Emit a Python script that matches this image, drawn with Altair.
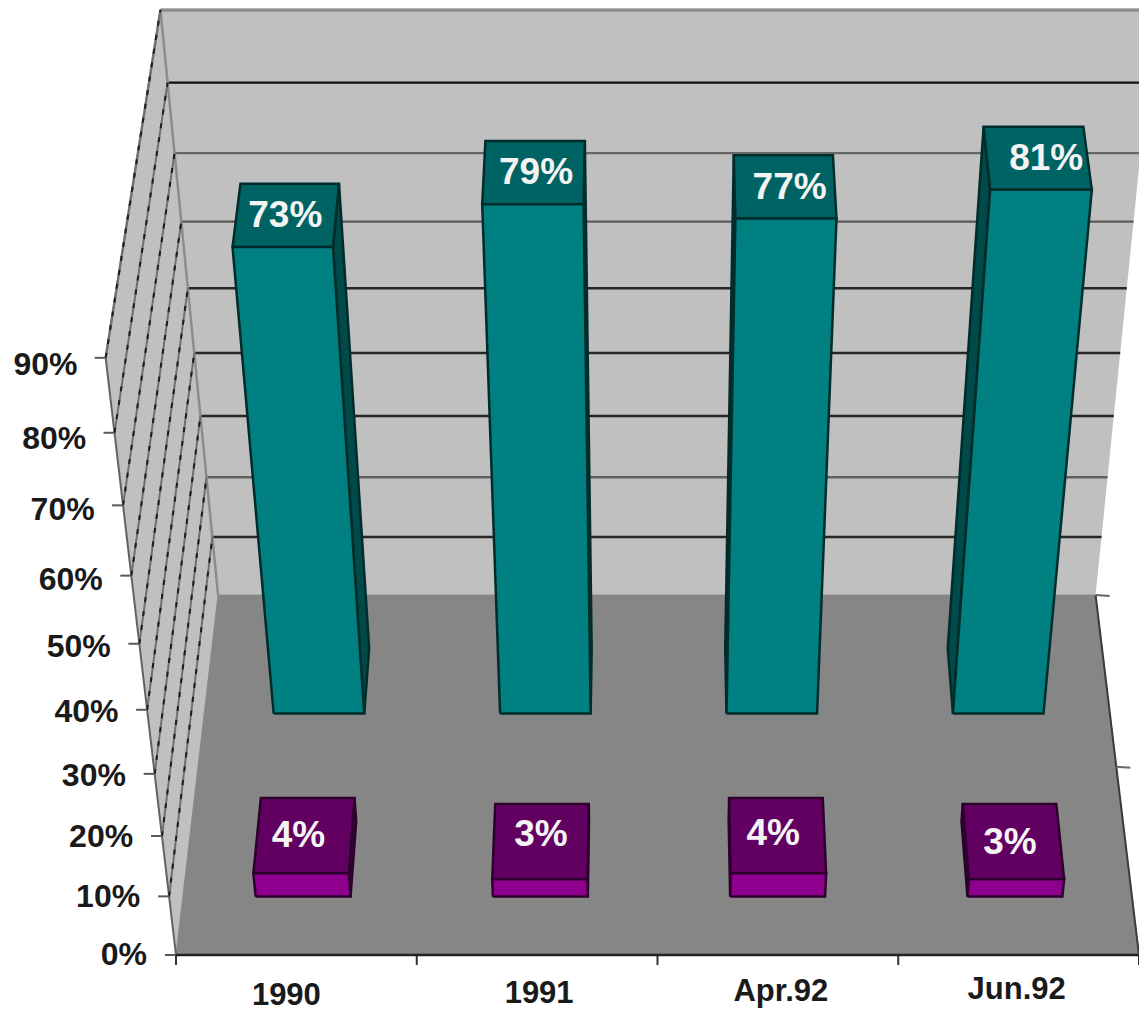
import altair as alt
import pandas as pd

# Survey shares per period, two series
categories = ["1990", "1991", "Apr.92", "Jun.92"]
teal_values = [73, 79, 77, 81]
purple_values = [4, 3, 4, 3]
y_ticks = [0, 10, 20, 30, 40, 50, 60, 70, 80, 90]

WIDTH, HEIGHT = 1139, 1012
FONT = "Liberation Sans"

# Perspective camera: origin is the front-left floor corner, the vertical and
# depth directions run to their own vanishing points, the category direction stays level.
ORIGIN = (176.0, 955.0)
ACROSS = 963.0
UP_VP, UP_K = (650.0, 4980.0), -0.1292
DEPTH_VP, DEPTH_K = (650.0, -3100.0), 0.0974


def project(across, depth, pct):
    up = pct / 90.0
    w = 1 + UP_K * up + DEPTH_K * depth
    px = ORIGIN[0] + ACROSS * across + UP_VP[0] * UP_K * up + DEPTH_VP[0] * DEPTH_K * depth
    py = ORIGIN[1] + UP_VP[1] * UP_K * up + DEPTH_VP[1] * DEPTH_K * depth
    return px / w, py / w


lines, labels = [], []


def add_shape(rows, corners, fill, stroke, stroke_width):
    pid = f"s{len({r['poly'] for r in rows}):04d}"
    closed = list(corners) + [corners[0]]
    for i, (px, py) in enumerate(closed):
        rows.append(dict(poly=pid, v=i, x=px, y=py, fill=fill, stroke=stroke, sw=stroke_width))


def add_line(a, b, stroke, stroke_width):
    pid = f"l{len(lines):04d}"
    for i, (px, py) in enumerate((a, b)):
        lines.append(dict(poly=pid, v=i, x=px, y=py, stroke=stroke, sw=stroke_width))


# Walls and floor
room = []
WALL, FLOOR, WALL_EDGE = "#c0c0c0", "#868686", "#8c8c8c"
add_shape(room, [project(0, 1, 0), project(0, 1, 90), project(1, 1, 90), project(1, 1, 0)], WALL, WALL_EDGE, 0.01)
add_shape(room, [project(0, 0, 0), project(0, 0, 90), project(0, 1, 90), project(0, 1, 0)], WALL, WALL_EDGE, 0.01)
add_shape(room, [project(0, 0, 0), project(1, 0, 0), project(1, 1, 0), project(0, 1, 0)], FLOOR, FLOOR, 1)

# Gridlines across the back wall, with the weight each one prints at
back_grid_colors = ["#7a7a7a", "#262626", "#606060", "#262626", "#262626", "#262626", "#5a5a5a", "#666666", "#111111", "#7d7d7d"]
for pct, colour in zip(y_ticks, back_grid_colors):
    if pct:
        add_line(project(0, 1, pct), project(1, 1, pct), colour, 2.4)
# Gridlines along the side wall
side_solid = []
side_dash = []
for pct in y_ticks[1:]:
    for target in (side_solid, side_dash):
        pid = f"g{pct:03d}"
        for i, p in enumerate((project(0, 0, pct), project(0, 1, pct))):
            target.append(dict(poly=pid, v=i, x=p[0], y=p[1]))

# Wall edges
add_line(project(0, 0, 0), project(0, 0, 90), "#626262", 2)
add_line(project(0, 0, 90), project(0, 1, 90), "#8c8c8c", 2.5)
add_line(project(0, 1, 0), project(0, 1, 90), "#8c8c8c", 2.5)
add_line(project(0, 1, 90), project(1, 1, 90), "#8c8c8c", 3)

# Bars, rear row first so the front row paints over it
BAR_HALF = 0.05
bars = []


def add_bar(value, across, z0, z1, front, top, side, edge):
    left, right = across - BAR_HALF, across + BAR_HALF
    near = left if across > 0.5 else right
    add_shape(bars, [project(near, z0, 0), project(near, z0, value), project(near, z1, value), project(near, z1, 0)], side, edge, 2.5)
    add_shape(bars, [project(left, z0, value), project(right, z0, value), project(right, z1, value), project(left, z1, value)], top, edge, 2.5)
    add_shape(bars, [project(left, z0, 0), project(right, z0, 0), project(right, z0, value), project(left, z0, value)], front, edge, 2.5)


ROWS = [
    (teal_values, 0.65, 0.84, "#008080", "#006363", "#004a4a", "#002c2c", [-1, 2, 5, 9], [1, 1, 1, 1]),
    (purple_values, 0.15, 0.35, "#8f008f", "#620062", "#3f003f", "#2c002c", [-6, 0, -4, -3], [1, -6, -1, 2]),
]
for values, z0, z1, front, top, side, edge, nudge_x, nudge_y in ROWS:
    for i, value in enumerate(values):
        across = 0.1267 + 0.25 * i
        add_bar(value, across, z0, z1, front, top, side, edge)
        cx, cy = project(across, (z0 + z1) / 2, value)
        labels.append(dict(x=cx + nudge_x[i], y=cy + nudge_y[i], text=f"{value}%"))

# Front edge, tick marks, right floor edge and depth ticks
frame = []
for pct in y_ticks:
    px, py = project(0, 0, pct)
    frame.append(((px - 11, py), (px, py), "#5a5a5a", 2))
for i in range(len(categories) + 1):
    px, py = project(i / len(categories), 0, 0)
    frame.append(((px, py), (px, py + 10), "#333333", 2))
frame.append((project(0, 0, 0), project(1, 0, 0), "#222222", 2.5))
frame.append((project(1, 0, 0), project(1, 1, 0), "#3a3a3a", 2))
for depth in (0.5, 1.0):
    px, py = project(1, depth, 0)
    frame.append(((px, py), (px + 14, py + 1), "#666666", 2))
frame_rows = []
for n, (a, b, colour, sw) in enumerate(frame):
    for i, p in enumerate((a, b)):
        frame_rows.append(dict(poly=f"f{n:03d}", v=i, x=p[0], y=p[1], stroke=colour, sw=sw))

# Axis text
y_label_rows = []
for pct in y_ticks:
    px, py = project(0, 0, pct * 0.99)
    y_label_rows.append(dict(x=px - 29, y=py, text=f"{pct}%"))
cat_nudge = [-10, 2, 3, -2]
cat_rows = []
for i, name in enumerate(categories):
    across = (i + 0.5) / len(categories)
    px, py = project(across, 0, 0)
    cat_rows.append(dict(x=px + cat_nudge[i], y=py + 42 - 8 * across, text=name))

x_enc = alt.X("x:Q", scale=alt.Scale(domain=[0, WIDTH], nice=False, zero=False), axis=None)
y_enc = alt.Y("y:Q", scale=alt.Scale(domain=[0, HEIGHT], nice=False, zero=False, reverse=True), axis=None)


def shape_layer(rows):
    return alt.Chart(pd.DataFrame(rows)).mark_line(clip=True, strokeJoin="miter").encode(
        x=x_enc, y=y_enc, detail="poly:N", order="v:Q",
        fill=alt.Fill("fill:N", scale=None),
        stroke=alt.Stroke("stroke:N", scale=None),
        strokeWidth=alt.StrokeWidth("sw:Q", scale=None),
    )


def line_layer(rows):
    return alt.Chart(pd.DataFrame(rows)).mark_line(clip=True).encode(
        x=x_enc, y=y_enc, detail="poly:N", order="v:Q",
        stroke=alt.Stroke("stroke:N", scale=None),
        strokeWidth=alt.StrokeWidth("sw:Q", scale=None),
    )


def plain_layer(rows, **style):
    return alt.Chart(pd.DataFrame(rows)).mark_line(clip=True, **style).encode(
        x=x_enc, y=y_enc, detail="poly:N", order="v:Q",
    )


def text_layer(rows, **style):
    return alt.Chart(pd.DataFrame(rows)).mark_text(font=FONT, fontWeight="bold", baseline="middle", **style).encode(
        x=x_enc, y=y_enc, text="text:N",
    )


chart = alt.layer(
    shape_layer(room),
    line_layer(lines),
    plain_layer(side_solid, color="#6f6f6f", strokeWidth=2),
    plain_layer(side_dash, color="#1c1c1c", strokeWidth=2, strokeDash=[5, 9]),
    shape_layer(bars),
    line_layer(frame_rows),
    text_layer(labels, fontSize=37, color="#f4f4f4", align="center"),
    text_layer(y_label_rows, fontSize=32, color="#1a1a1a", align="right"),
    text_layer(cat_rows, fontSize=31, color="#1a1a1a", align="center"),
).properties(
    width=WIDTH, height=HEIGHT, padding=0, background="#ffffff",
    autosize=alt.AutoSizeParams(type="none"),
).configure_view(stroke=None)

chart.save("out.html", embed_options={"renderer": "svg", "actions": False})
